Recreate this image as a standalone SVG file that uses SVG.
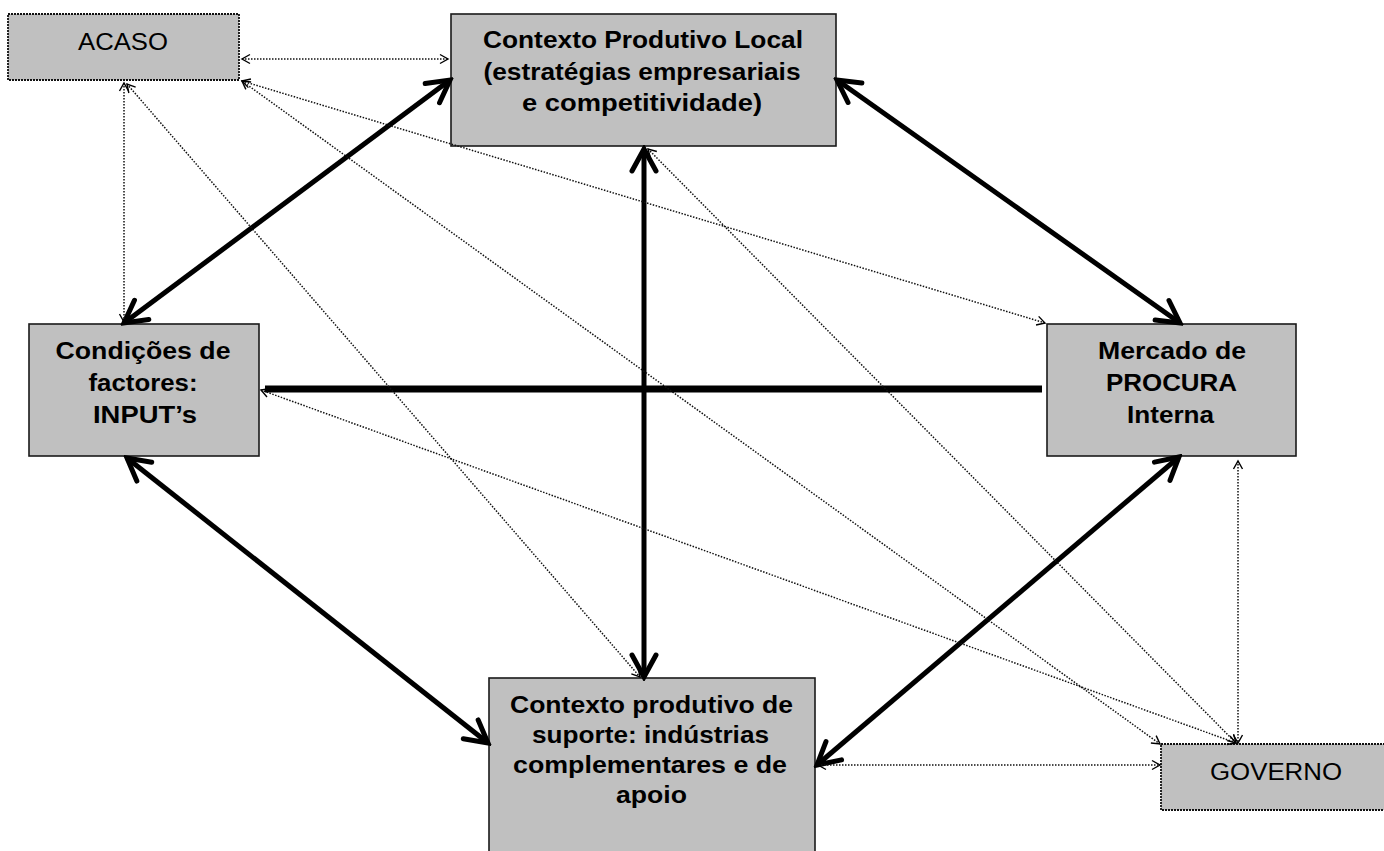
<svg xmlns="http://www.w3.org/2000/svg" width="1384" height="851" viewBox="0 0 1384 851">
<style>
.box{fill:#c0c0c0;stroke:#1a1a1a;stroke-width:1.6}
.dbox{fill:#c0c0c0;stroke:#111;stroke-width:1.8;stroke-dasharray:2 1}
.t{font-family:"Liberation Sans",Arial,sans-serif;font-size:23px;font-weight:bold;fill:#000;text-anchor:middle}
.n{font-family:"Liberation Sans",Arial,sans-serif;font-size:23px;fill:#000;text-anchor:middle}
.thick{stroke:#000;stroke-width:5;fill:none;marker-start:url(#ah);marker-end:url(#ah)}
.dot{stroke:#111;stroke-width:1.5;fill:none;stroke-dasharray:1.5 1.5;marker-start:url(#dh);marker-end:url(#dh)}
</style>
<defs>
<marker id="ah" viewBox="-30 -16 34 32" refX="0" refY="0" markerWidth="34" markerHeight="32" markerUnits="userSpaceOnUse" orient="auto-start-reverse">
<path d="M-22,-12 L0,0 L-22,12" fill="none" stroke="#000" stroke-width="5" stroke-linecap="round" stroke-linejoin="miter"/>
</marker>
<marker id="dh" viewBox="-12 -7 14 14" refX="0" refY="0" markerWidth="14" markerHeight="14" markerUnits="userSpaceOnUse" orient="auto-start-reverse">
<path d="M-8,-4.5 L0,0 L-8,4.5" fill="none" stroke="#000" stroke-width="1.4"/>
</marker>
</defs>

<g id="acaso">
<rect class="dbox" x="8" y="14" width="231" height="66"/>
<text class="n" x="123" y="50" textLength="90" lengthAdjust="spacingAndGlyphs">ACASO</text>
</g>
<g id="contexto-local">
<rect class="box" x="451" y="14" width="385" height="132"/>
<text class="t" x="643" y="48" textLength="320" lengthAdjust="spacingAndGlyphs">Contexto Produtivo Local</text>
<text class="t" x="642" y="79.5" textLength="317" lengthAdjust="spacingAndGlyphs">(estratégias empresariais</text>
<text class="t" x="642" y="111" textLength="240" lengthAdjust="spacingAndGlyphs">e competitividade)</text>
</g>
<g id="condicoes">
<rect class="box" x="29" y="324" width="230" height="132"/>
<text class="t" x="143" y="359" textLength="175" lengthAdjust="spacingAndGlyphs">Condições de</text>
<text class="t" x="143" y="391" textLength="109" lengthAdjust="spacingAndGlyphs">factores:</text>
<text class="t" x="145" y="423" textLength="104" lengthAdjust="spacingAndGlyphs">INPUT’s</text>
</g>
<g id="mercado">
<rect class="box" x="1047" y="324" width="249" height="132"/>
<text class="t" x="1172" y="359" textLength="148" lengthAdjust="spacingAndGlyphs">Mercado de</text>
<text class="t" x="1171.5" y="391" textLength="131" lengthAdjust="spacingAndGlyphs">PROCURA</text>
<text class="t" x="1170.5" y="423" textLength="87" lengthAdjust="spacingAndGlyphs">Interna</text>
</g>
<g id="suporte">
<rect class="box" x="489" y="678" width="326" height="190"/>
<text class="t" x="651.5" y="713" textLength="283" lengthAdjust="spacingAndGlyphs">Contexto produtivo de</text>
<text class="t" x="650.5" y="743" textLength="237" lengthAdjust="spacingAndGlyphs">suporte: indústrias</text>
<text class="t" x="650" y="773" textLength="274" lengthAdjust="spacingAndGlyphs">complementares e de</text>
<text class="t" x="651.5" y="803" textLength="71" lengthAdjust="spacingAndGlyphs">apoio</text>
</g>
<g id="governo">
<rect class="dbox" x="1161" y="744" width="240" height="66"/>
<text class="n" x="1276" y="780" textLength="132" lengthAdjust="spacingAndGlyphs">GOVERNO</text>
</g>

<g id="connectors">
<line x1="265" y1="389" x2="1042" y2="389" stroke="#000" stroke-width="7"/>
<line class="thick" x1="450" y1="80" x2="124" y2="323"/>
<line class="thick" x1="837" y1="80" x2="1180" y2="323"/>
<line class="thick" x1="644" y1="149" x2="644" y2="677"/>
<line class="thick" x1="127" y1="458" x2="488" y2="743"/>
<line class="thick" x1="1179" y1="457" x2="817" y2="765"/>

<line class="dot" x1="242" y1="59" x2="448" y2="59"/>
<line class="dot" x1="124" y1="83" x2="124" y2="322"/>
<line class="dot" x1="127" y1="84" x2="640" y2="677"/>
<line class="dot" x1="242" y1="81" x2="1045" y2="323"/>
<line class="dot" x1="242" y1="81" x2="1160" y2="744"/>
<line class="dot" x1="648" y1="149" x2="1236" y2="743"/>
<line class="dot" x1="261" y1="390" x2="1236" y2="743"/>
<line class="dot" x1="1238" y1="461" x2="1238" y2="743"/>
<line class="dot" x1="818" y1="765" x2="1160" y2="765"/>
</g>
</svg>
